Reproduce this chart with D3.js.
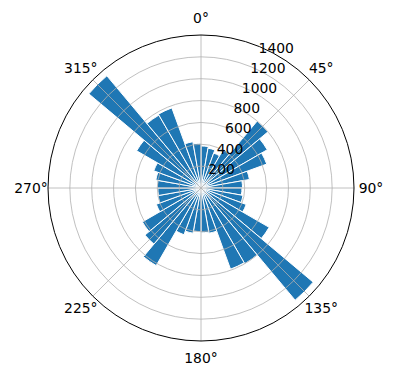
<!DOCTYPE html>
<html>
<head>
<meta charset="utf-8">
<script src="https://cdn.jsdelivr.net/npm/d3@7"></script>
<style>
  body { margin: 0; background: #fff; }
  text { font-family: 'DejaVu Sans', sans-serif; }
</style>
</head>
<body>
<script>
// direction bins, 10 degrees each, starting at north and going clockwise
const binStarts = d3.range(0, 360, 10);
const counts = [
  385, 370, 340, 410, 800, 700, 640, 450, 380,
  375, 390, 440, 720, 1340, 800, 790, 420, 410,
  400, 420, 455, 820, 670, 620, 435, 400, 395,
  400, 420, 460, 680, 1340, 770, 780, 430, 410
];
const radialTicks = [200, 400, 600, 800, 1000, 1200, 1400];
const angleTicks = [0, 45, 90, 135, 180, 225, 270, 315];

const width = 396, height = 380;
const cx = 201, cy = 188, R = 153;
const rMax = 1400;

const svg = d3.select('body').append('svg')
  .attr('width', width)
  .attr('height', height);

const r = d3.scaleLinear().domain([0, rMax]).range([0, R]);
const rad = d3.scaleLinear().domain([0, 360]).range([0, 2 * Math.PI]);

const g = svg.append('g').attr('transform', 'translate(' + cx + ',' + cy + ')');

const arc = d3.arc()
  .innerRadius(0)
  .outerRadius(d => r(d.value))
  .startAngle(d => rad(d.start))
  .endAngle(d => rad(d.start + 10));

const bars = binStarts.map((s, i) => ({ start: s, value: counts[i] }));

g.selectAll('path.bar')
  .data(bars)
  .enter().append('path')
  .attr('class', 'bar')
  .attr('d', arc)
  .attr('fill', '#1f77b4')
  .attr('stroke', '#fff')
  .attr('stroke-width', 1);

// grid on top of the bars, like matplotlib
g.selectAll('circle.grid')
  .data(radialTicks.filter(v => v < rMax))
  .enter().append('circle')
  .attr('r', d => r(d))
  .attr('fill', 'none')
  .attr('stroke', '#b0b0b0')
  .attr('stroke-width', 0.8);

g.selectAll('line.grid')
  .data(angleTicks)
  .enter().append('line')
  .attr('x1', 0).attr('y1', 0)
  .attr('x2', d => R * Math.sin(rad(d)))
  .attr('y2', d => -R * Math.cos(rad(d)))
  .attr('stroke', '#b0b0b0')
  .attr('stroke-width', 0.8);

g.append('circle')
  .attr('r', R)
  .attr('fill', 'none')
  .attr('stroke', '#000')
  .attr('stroke-width', 1);

// angle labels
g.selectAll('text.angle')
  .data(angleTicks)
  .enter().append('text')
  .attr('x', d => (R + 17) * Math.sin(rad(d)))
  .attr('y', d => -(R + 17) * Math.cos(rad(d)))
  .attr('text-anchor', 'middle')
  .attr('dominant-baseline', 'central')
  .style('font-size', '13.9px')
  .text(d => d + '°');

// radial labels along 22.5 degrees
const labelAngle = rad(22.5);
g.selectAll('text.rlabel')
  .data(radialTicks)
  .enter().append('text')
  .attr('x', d => r(d) * Math.sin(labelAngle) - 1)
  .attr('y', d => -r(d) * Math.cos(labelAngle) + 1)
  .attr('text-anchor', 'start')
  .attr('dominant-baseline', 'central')
  .style('font-size', '13.9px')
  .text(d => d);
</script>
</body>
</html>
